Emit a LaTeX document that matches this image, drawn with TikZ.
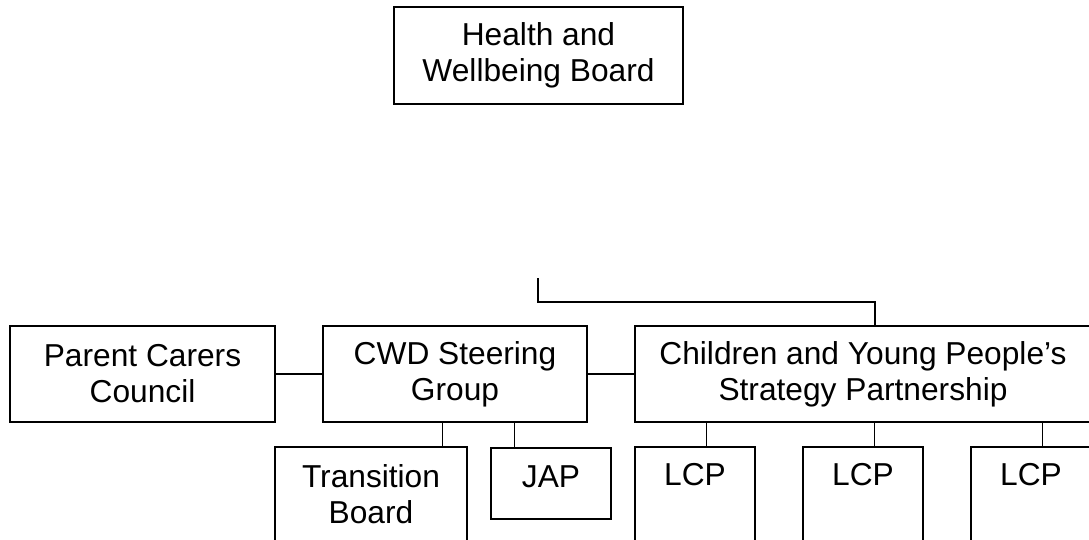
\documentclass[tikz,border=0pt]{standalone}
\usepackage{fontspec}
\setmainfont{Liberation Sans}
\begin{document}
\begin{tikzpicture}[x=1pt,y=-1pt,
  box/.style={draw, line width=1.5pt, inner sep=0pt, align=center,
    font=\fontsize{31.7}{36}\selectfont},
  link/.style={line width=1.5pt}]
\useasboundingbox (0,0) rectangle (1089,540);
\clip (0,0) rectangle (1089,540);
% top level
\node[box, minimum width=289pt, minimum height=97pt] (hwb) at (538.5,55.5) {Health and\\Wellbeing Board};
% middle row
\node[box, minimum width=265pt, minimum height=96pt] (pcc) at (142.5,374) {Parent Carers\\Council};
\node[box, minimum width=264pt, minimum height=96pt] (cwd) at (455,374) {CWD Steering\\Group};
\node[box, minimum width=456pt, minimum height=96pt] (cyp) at (863,374) {Children and Young People’s\\Strategy Partnership};
% bottom row
\node[box, minimum width=192pt, minimum height=95pt] (tb) at (371,494.5) {Transition\\Board};
\node[box, anchor=north, minimum width=120pt, text height=40pt, text depth=31pt] (jap) at (551,447) {JAP};
\node[box, anchor=north, minimum width=120pt, text height=39pt, text depth=120pt] (lcpa) at (695,446) {LCP};
\node[box, anchor=north, minimum width=120pt, text height=39pt, text depth=120pt] (lcpb) at (863,446) {LCP};
\node[box, anchor=north, minimum width=120pt, text height=39pt, text depth=120pt] (lcpc) at (1031,446) {LCP};
% bracket from the top
\coordinate (bk) at (538,278);
\coordinate (bj) at (875,302);
\draw[link] (bk) |- (bj) -- (bj |- cyp.north);
% horizontal links
\draw[link] (pcc.east) -- (cwd.west);
\draw[link] (cwd.east) -- (cyp.west);
% vertical links
\coordinate (ctb) at ([xshift=168pt]tb.north west);
\coordinate (cjap) at ([xshift=24pt]jap.north west);
\coordinate (ca) at ([xshift=72pt]lcpa.north west);
\coordinate (cb) at ([xshift=72pt]lcpb.north west);
\coordinate (cc) at ([xshift=72pt]lcpc.north west);
\draw[link] (ctb) -- (ctb |- cwd.south);
\draw[link] (cjap) -- (cjap |- cwd.south);
\draw[link] (ca) -- (ca |- cyp.south);
\draw[link] (cb) -- (cb |- cyp.south);
\draw[link] (cc) -- (cc |- cyp.south);
\end{tikzpicture}
\end{document}
